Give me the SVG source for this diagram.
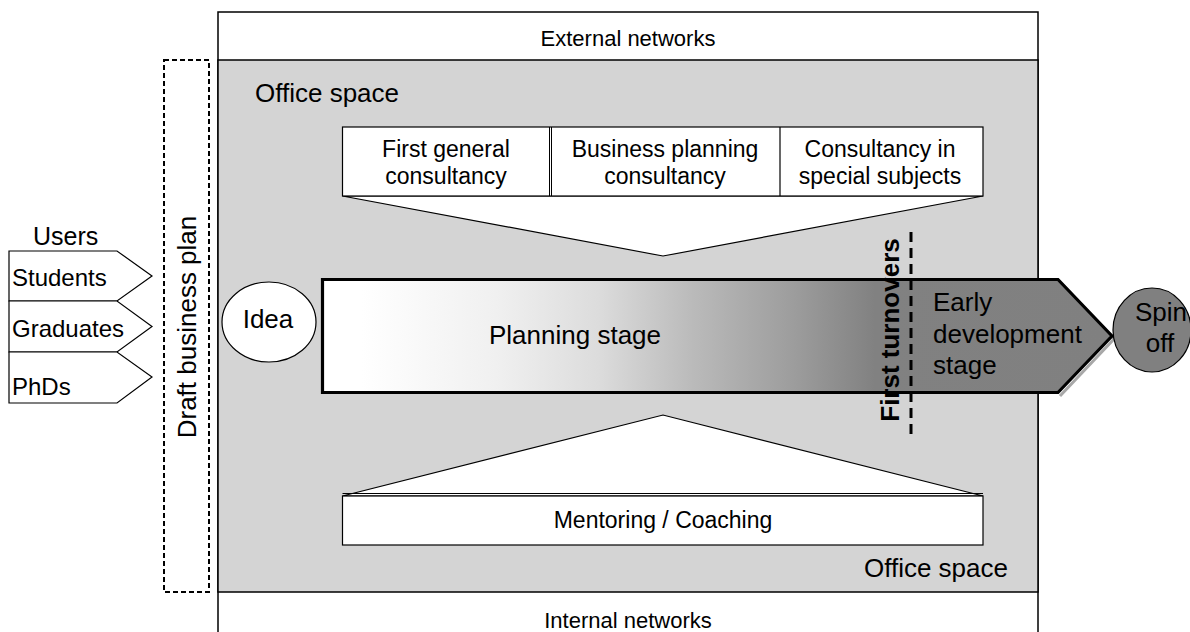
<svg xmlns="http://www.w3.org/2000/svg" width="1190" height="632" viewBox="0 0 1190 632">
<defs>
<style>
text{font-family:"Liberation Sans",Arial,sans-serif;fill:#000}
.t22{font-size:22px}
.t23{font-size:23px}
.t24{font-size:24px}
.t26{font-size:26px}
.c{text-anchor:middle}
.thin{stroke:#000;stroke-width:1.2}
</style>
<linearGradient id="stageGrad" gradientUnits="userSpaceOnUse" x1="322" y1="0" x2="1112" y2="0">
<stop offset="0" stop-color="#ffffff"/>
<stop offset="0.05" stop-color="#ffffff"/>
<stop offset="0.22" stop-color="#f0f0f0"/>
<stop offset="0.35" stop-color="#dcdcdc"/>
<stop offset="0.47" stop-color="#bababa"/>
<stop offset="0.60" stop-color="#9c9c9c"/>
<stop offset="0.70" stop-color="#818181"/>
<stop offset="1" stop-color="#808080"/>
</linearGradient>
</defs>
<rect width="1190" height="632" fill="#fff"/>

<g id="frame">
<rect x="218" y="12" width="820" height="640" fill="#fff" stroke="#000" stroke-width="1.5"/>
<text class="t22 c" x="628" y="46">External networks</text>
<rect id="office-space" x="218" y="60" width="820" height="532" fill="#d4d4d4" stroke="#000" stroke-width="1.5"/>
<text class="t26" x="255" y="102">Office space</text>
<text class="t26" x="1008" y="577" text-anchor="end">Office space</text>
<text class="t22 c" x="628" y="628">Internal networks</text>
</g>

<g id="draft-business-plan">
<rect x="164" y="60" width="45" height="532" fill="none" stroke="#000" stroke-width="2" stroke-dasharray="5,3"/>
<text class="t26 c" transform="translate(196,327) rotate(-90)">Draft business plan</text>
</g>

<g id="users">
<text class="t24" x="33" y="245" style="font-size:25px">Users</text>
<g id="students">
<polygon points="9,251 117,251 152,276 117,301 9,301" fill="#fff" class="thin"/>
<text class="t24" x="12" y="286">Students</text>
</g>
<g id="graduates">
<polygon points="9,301 117,301 152,326.5 117,352 9,352" fill="#fff" class="thin"/>
<text class="t24" x="12" y="337">Graduates</text>
</g>
<g id="phds">
<polygon points="9,352 117,352 152,377 117,403 9,403" fill="#fff" class="thin"/>
<text class="t24" x="12" y="395">PhDs</text>
</g>
</g>

<g id="consultancy">
<polygon points="342.5,196 983,196 663,256" fill="#fff" class="thin"/>
<rect x="342.5" y="127" width="640.5" height="69" fill="#fff" class="thin"/>
<line x1="549.5" y1="127" x2="549.5" y2="196" stroke="#000" stroke-width="1"/>
<line x1="551.5" y1="127" x2="551.5" y2="196" stroke="#000" stroke-width="1"/>
<line x1="780" y1="127" x2="780" y2="196" stroke="#000" stroke-width="1.2"/>
<text class="t23 c" x="446" y="157">First general</text>
<text class="t23 c" x="446" y="184">consultancy</text>
<text class="t23 c" x="665" y="157">Business planning</text>
<text class="t23 c" x="665" y="184">consultancy</text>
<text class="t23 c" x="880" y="157">Consultancy in</text>
<text class="t23 c" x="880" y="184">special subjects</text>
</g>

<g id="mentoring">
<polygon points="342.5,496 663,415 983,496" fill="#fff" class="thin"/>
<rect x="342.5" y="496" width="640.5" height="49" fill="#fff" class="thin"/>
<line x1="342.5" y1="493.5" x2="983" y2="493.5" stroke="#000" stroke-width="1"/>
<text class="t23 c" x="663" y="528">Mentoring / Coaching</text>
</g>

<g id="idea">
<ellipse cx="269" cy="322" rx="47" ry="40" fill="#fff" stroke="#000" stroke-width="1.2"/>
<text class="t26 c" x="268" y="328">Idea</text>
</g>

<g id="stages">
<polyline points="1060,282 1114,339 1060,396" fill="none" stroke="#a8a8a8" stroke-width="3"/>
<polygon points="322.5,279.5 1058,279.5 1112,336 1058,392.5 322.5,392.5" fill="url(#stageGrad)" stroke="#000" stroke-width="3.2" stroke-linejoin="miter"/>
<text class="t26 c" x="575" y="344">Planning stage</text>
<text class="t26" x="933" y="311">Early</text>
<text class="t26" x="933" y="343">development</text>
<text class="t26" x="933" y="374">stage</text>
</g>

<g id="first-turnovers">
<line x1="911" y1="232" x2="911" y2="437" stroke="#000" stroke-width="3" stroke-dasharray="10,6"/>
<text class="t26 c" font-weight="bold" transform="translate(899,330) rotate(-90)">First turnovers</text>
</g>

<g id="spin-off">
<ellipse cx="1152" cy="330" rx="39" ry="42" fill="#808080" stroke="#000" stroke-width="1.2"/>
<text class="t26 c" x="1161" y="321">Spin</text>
<text class="t26 c" x="1160" y="352">off</text>
</g>

<g id="connectors"></g>
</svg>
